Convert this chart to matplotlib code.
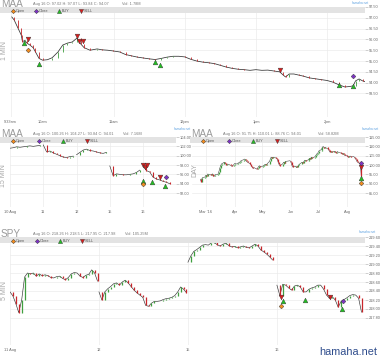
import numpy as np
import pandas as pd
import matplotlib
matplotlib.use('Agg')
import matplotlib.pyplot as plt
import matplotlib.dates as mdates
from matplotlib.patches import Rectangle

plt.rcParams['font.family'] = ['Liberation Sans', 'DejaVu Sans']

W, H = 380, 358
GREEN = '#3f9f3f'
RED = '#c8262b'

# ---- MAA 1 MIN (minutes after 9:30) ----
min1_t = [4, 6, 9, 12, 13, 15, 17, 19, 22, 24, 27, 30, 34, 38, 43, 47, 51, 55, 59, 62,
          65, 70, 76, 80, 85, 89, 95, 100, 105, 110, 115, 120, 125, 130, 135, 140, 145,
          150, 155, 160, 165, 170, 175, 180, 185, 190, 195, 200, 205, 210, 215, 220, 225,
          230, 233, 235, 238, 242, 246, 250, 255, 260, 265, 270, 275, 280, 285, 289, 292,
          294, 297, 300, 303]
min1_px = [97.04, 96.9, 96.55, 96.2, 95.9, 95.95, 95.82, 95.75, 95.62, 95.42, 95.12, 95.04,
           95.06, 95.15, 95.42, 95.74, 95.83, 95.88, 96.06, 95.8, 95.62, 95.5, 95.56, 95.52,
           95.5, 95.47, 95.42, 95.3, 95.24, 95.18, 95.14, 95.1, 95.07, 95.12, 95.18, 95.22,
           95.22, 95.19, 95.08, 95.0, 94.95, 94.92, 94.88, 94.8, 94.72, 94.66, 94.62, 94.6,
           94.57, 94.6, 94.57, 94.58, 94.54, 94.5, 94.35, 94.26, 94.4, 94.4, 94.35, 94.3,
           94.22, 94.18, 94.14, 94.1, 94.02, 93.9, 93.8, 93.82, 93.85, 94.08, 94.17, 94.08,
           94.03]
min1_ticks = [3, 30, 90, 150, 210, 270]
min1_labels = ['9:33am', '10am', '11am', '12pm', '1pm', '2pm']
min1_buy = ([14, 27, 125, 129, 280, 292], [95.83, 94.86, 94.95, 94.81, 93.89, 93.84])
min1_sell = ([18, 59, 61, 64, 230], [96.02, 96.16, 95.93, 95.93, 94.58])
min1_open = ([18], [95.51])
min1_close = ([292], [94.31])

# ---- MAA 15 MIN (one list per session) ----
m15_days = ['10 Aug', '11', '12', '15', '16']
m15_sessions = [
    [101.6, 101.7, 101.9, 101.8, 101.9, 102.0, 102.1, 102.0, 102.1, 102.2],
    [102.3, 100.8, 101.0, 100.6, 100.3, 100.0, 99.7, 99.6, 99.8, 99.9],
    [100.2, 100.7, 101.2, 101.4, 101.1, 101.0, 100.8, 100.6, 100.5, 100.7],
    [97.8, 95.7, 96.1, 96.0, 95.9, 95.9, 96.0, 96.1, 96.4, 96.9],
    [97.8, 96.8, 96.5, 95.4, 95.0, 94.8, 94.5, 94.3, 94.0],
]
m15_buy = ([4.0, 4.27, 4.66], [94.6, 94.35, 93.5])
m15_sell = ([4.0, 4.06, 4.12, 4.51], [98.0, 97.6, 98.0, 95.4])
m15_open = ([4.0], [93.9])
m15_close = ([4.69], [95.4])

# ---- MAA DAY ----
day_close = [92.4, 91.0, 93.1,
             93.6, 94.5, 94.0, 95.2, 95.0,
             94.6, 95.3, 94.2, 93.9, 94.8,
             95.0, 96.4, 98.2, 99.8, 100.6,
             101.5, 100.9, 100.2, 100.5, 100.4,
             99.8, 99.3, 99.6, 100.1, 100.8,
             100.5, 101.2, 101.0, 101.8, 102.3,
             102.9, 103.2, 102.6, 101.9, 101.5,
             100.6, 99.7, 98.9, 98.2, 98.6,
             97.8, 98.4, 99.2, 99.6, 99.1,
             99.5, 99.9, 100.3, 100.1, 100.5,
             102.1, 103.8, 104.2, 103.6, 104.2,
             103.7, 103.2, 101.8, 100.4, 99.6,
             100.6, 101.5, 101.2, 101.9, 102.0,
             102.2, 102.3, 101.4, 99.8, 98.9,
             99.3, 98.7, 98.9, 99.8, 100.4,
             101.5, 101.1, 101.9, 102.6, 102.3,
             102.8, 103.5, 103.1, 104.2, 103.6,
             104.5, 105.3, 106.0, 106.4, 107.5,
             108.3, 109.6, 109.9, 109.0, 109.4,
             108.6, 107.9, 107.0, 107.4, 106.8,
             107.3, 107.0, 106.5, 107.2, 106.9,
             106.4, 106.0, 106.3, 105.7, 105.2,
             104.8, 104.2, 104.6, 104.8, 104.3,
             104.5, 103.8, 103.2, 102.1, 101.5,
             100.5, 94.0]
day_dates = pd.bdate_range('2016-02-24', periods=len(day_close))
day_ticks = ['2016-03-01', '2016-04-01', '2016-05-01', '2016-06-01', '2016-07-01', '2016-08-01']
day_labels = ["Mar '16", 'Apr', 'May', 'Jun', 'Jul', 'Aug']
day_marks = {'close': 101.0, 'sell': 98.9, 'buy': 93.0, 'open': 90.3}

# ---- SPY 5 MIN ----
spy_days = ['11 Aug', '12', '15', '16']
spy_sessions = [
    [218.38, 218.29, 218.12, 217.92, 218.2, 218.71, 218.8, 218.78, 218.8, 218.73, 218.78,
     218.74, 218.76, 218.74, 218.7, 218.69, 218.72, 218.73, 218.68, 218.65, 218.7, 218.78,
     218.81, 218.8, 218.73, 218.7, 218.75, 218.77, 218.87, 218.8, 218.62],
    [218.38, 218.2, 218.38, 218.45, 218.5, 218.56, 218.58, 218.53, 218.6, 218.64, 218.58,
     218.5, 218.42, 218.36, 218.31, 218.26, 218.08, 218.06, 218.13, 218.17, 218.17, 218.18,
     218.21, 218.23, 218.24, 218.26, 218.3, 218.38, 218.49, 218.44, 218.36],
    [219.04, 219.18, 219.28, 219.32, 219.37, 219.42, 219.43, 219.42, 219.47, 219.48, 219.43,
     219.4, 219.44, 219.46, 219.41, 219.38, 219.39, 219.36, 219.38, 219.4, 219.37, 219.36,
     219.4, 219.44, 219.4, 219.31, 219.27, 219.22, 219.16, 219.09],
    [218.53, 218.3, 218.55, 218.53, 218.47, 218.42, 218.51, 218.53, 218.49, 218.38, 218.38,
     218.44, 218.47, 218.49, 218.53, 218.53, 218.44, 218.31, 218.24, 218.27, 218.2, 218.04,
     218.17, 218.21, 218.25, 218.3, 218.32, 218.31, 218.24, 217.93],
]
spy_buy = ([3.067, 3.315, 3.73], [218.18, 218.2, 218.0])
spy_sell = ([3.045, 3.6], [218.27, 218.27])
spy_open = ([3.045], [218.07])
spy_close = ([3.74], [218.18])


def box(l, t, r, b):
    return [l / W, 1 - b / H, (r - l) / W, (b - t) / H]


def style(ax):
    for s in ax.spines.values():
        s.set_visible(False)
    ax.yaxis.tick_right()
    ax.tick_params(axis='y', length=2, width=0.4, color='#aaaaaa', labelsize=2.8,
                   labelcolor='#666666', pad=0.8)
    ax.tick_params(axis='x', length=0, labelsize=2.8, labelcolor='#666666', pad=2.5)
    ax.grid(True, color='#ebebeb', lw=0.5)
    ax.set_axisbelow(True)


def candles(ax, x, y, lw_line=0.45, lw_body=0.8):
    x = np.asarray(x, float)
    y = np.asarray(y, float)
    ax.plot(x, y, color='#333333', lw=lw_line, zorder=2)
    up = np.diff(y) >= 0
    ax.vlines(x[1:][up], y[:-1][up], y[1:][up], color=GREEN, lw=lw_body, zorder=3)
    ax.vlines(x[1:][~up], y[:-1][~up], y[1:][~up], color=RED, lw=lw_body, zorder=3)


def signals(ax, buy, sell, opn, cls):
    kw = dict(ls='none', mec='#333333', mew=0.3, zorder=5)
    ax.plot(buy[0], buy[1], marker='^', ms=3.4, color='#22c022', **kw)
    ax.plot(sell[0], sell[1], marker='v', ms=3.4, color='#d91e1e', **kw)
    ax.plot(opn[0], opn[1], marker='D', ms=2.4, color='#f28c1e', **kw)
    ax.plot(cls[0], cls[1], marker='D', ms=2.4, color='#7d33c4', **kw)


fig = plt.figure(figsize=(W / 100, H / 100), dpi=100)

# panel 1
ax1 = fig.add_axes(box(10, 7, 365, 117))
style(ax1)
candles(ax1, min1_t, min1_px, lw_line=0.55, lw_body=0.6)
signals(ax1, min1_buy, min1_sell, min1_open, min1_close)
ax1.set_xlim(2.5, 302)
ax1.set_ylim(92.41, 97.5)
yt = np.arange(93.5, 97.51, 0.5)
ax1.set_yticks(yt, [f'{v:.2f}' for v in yt])
ax1.set_xticks(min1_ticks, min1_labels)

# panel 2
ax2 = fig.add_axes(box(10, 137, 176, 207))
style(ax2)
for d, sess in enumerate(m15_sessions):
    n = len(m15_sessions[0])
    candles(ax2, d + np.arange(len(sess)) / n, sess)
signals(ax2, m15_buy, m15_sell, m15_open, m15_close)
ax2.set_xlim(0, 4.99)
ax2.set_ylim(89.0, 104)
yt = np.arange(92, 104.1, 2)
ax2.set_yticks(yt, [f'{v:.2f}' for v in yt])
ax2.set_xticks(range(len(m15_days)), m15_days)

# panel 3
ax3 = fig.add_axes(box(192, 137, 365, 207))
style(ax3)
dn = mdates.date2num(day_dates)
candles(ax3, dn, day_close, lw_line=0.35, lw_body=0.9)
last = dn[-1]
signals(ax3, ([last], [day_marks['buy']]), ([last], [day_marks['sell']]),
        ([last], [day_marks['open']]), ([last], [day_marks['close']]))
ax3.set_xlim(mdates.date2num(pd.Timestamp('2016-02-15')), mdates.date2num(pd.Timestamp('2016-08-20')))
ax3.set_ylim(77.5, 115)
yt = np.arange(85, 115.1, 5)
ax3.set_yticks(yt, [f'{v:.2f}' for v in yt])
ax3.set_xticks(mdates.date2num(pd.to_datetime(day_ticks)), day_labels)

# panel 4
ax4 = fig.add_axes(box(10, 237, 365, 345))
style(ax4)
for d, sess in enumerate(spy_sessions):
    candles(ax4, d + np.arange(len(sess)) / 30.5, sess, lw_body=0.9)
signals(ax4, spy_buy, spy_sell, spy_open, spy_close)
ax4.set_xlim(0, 3.99)
ax4.set_ylim(217.2, 219.6)
yt = np.arange(217.8, 219.61, 0.2)
ax4.set_yticks(yt, [f'{v:.2f}' for v in yt])
ax4.set_xticks(range(len(spy_days)), spy_days)

# overlay: titles, headers, legend bands
ov = fig.add_axes([0, 0, 1, 1], zorder=10)
ov.set_xlim(0, W)
ov.set_ylim(H, 0)
ov.axis('off')

panels = [
    # band x0, x1, band y, title, header, vol x, side label, label xy, legend xs, link xy
    (0, 365, 7, 'MAA', 'Aug 16 O: 97.02 H: 97.07 L: 93.84 C: 94.07', 'Vol: 1.78M', 122,
     '1 MIN', (4, 51), [13, 36, 59, 81], 360, 3),
    (0, 176, 137, 'MAA', 'Aug 16 O: 100.26 H: 104.27 L: 93.84 C: 94.01', 'Vol: 7.16M', 123,
     '15 MIN', (4, 176), [13, 39, 63, 87], 182, 129),
    (190, 365, 137, 'MAA', 'Aug 16 O: 91.75 H: 110.01 L: 88.76 C: 94.01', 'Vol: 58.82M', 318,
     'DAY', (195, 170), [203, 229, 253, 277], 370, 129),
    (0, 365, 237, 'SPY', 'Aug 16 O: 218.26 H: 218.5 L: 217.95 C: 217.98', 'Vol: 105.25M', 125,
     '5 MIN', (4, 290), [13, 37, 60, 82], 367, 232),
]
leg = [('Open', 'D', '#f28c1e', 2.2), ('Close', 'D', '#7d33c4', 2.2),
       ('BUY', '^', '#22c022', 3.0), ('SELL', 'v', '#d91e1e', 3.0)]
for x0, x1, by, title, head, vol, volx, side, sxy, lxs, linkx, linky in panels:
    ov.add_patch(Rectangle((x0, by), x1 - x0, 6, color='#e3e3e3', lw=0, zorder=1))
    ov.text(x0 + 1, by - 0.3, title, fontsize=7.2, color='#9a9a9a', va='baseline',
            family=['Liberation Sans Narrow', 'Liberation Sans'], zorder=2)
    ov.text(x0 + 33, by - 2, head, fontsize=2.8, color='#777777', va='baseline')
    ov.text(volx, by - 2, vol, fontsize=2.8, color='#777777', va='baseline')
    ov.text(linkx, linky, 'hamaha.net', fontsize=2.3, color='#5a9fe0', ha='center', va='center')
    ov.text(sxy[0], sxy[1], side, fontsize=5, color='#a8a8a8', rotation=90, ha='center', va='center')
    for lx, (name, mk, col, ms) in zip(lxs, leg):
        ov.plot([lx], [by + 4.2], marker=mk, ms=ms, color=col, mec='#333333', mew=0.3, ls='none', zorder=3)
        ov.text(lx + 3, by + 4.2, name, fontsize=2.7, color='#555555', va='center', zorder=3)

ov.text(377, 355, 'hamaha.net', fontsize=7.8, color='#2e4c8c', ha='right', va='baseline')

fig.savefig('out.png', dpi=100)
